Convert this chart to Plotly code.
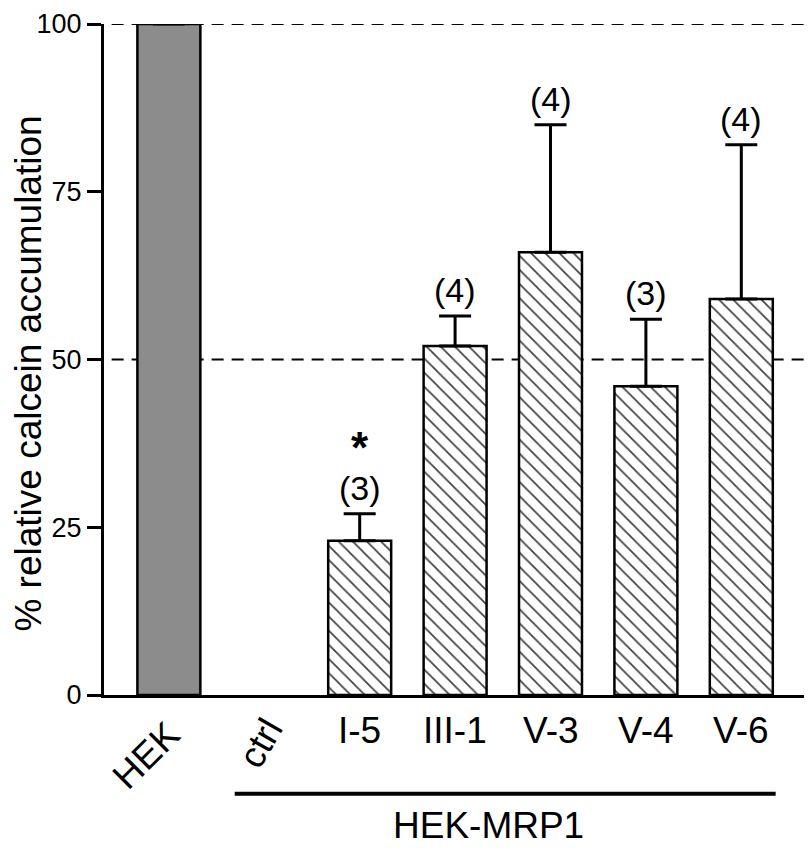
import plotly.graph_objects as go

categories = ["HEK", "ctrl", "I-5", "III-1", "V-3", "V-4", "V-6"]
values = [100, None, 23, 52, 66, 46, 59]
errors_up = [None, None, 4, 4.5, 19, 10, 23]
n_labels = ["", "", "(3)", "(4)", "(4)", "(3)", "(4)"]
significant = [False, False, True, False, False, False, False]
rotated_labels = {"HEK": (-45, -0.24, -0.09), "ctrl": (-60, -0.04, -0.072)}
group_label = "HEK-MRP1"
y_title = "% relative calcein accumulation"
ref_lines = [100, 50]
y_ticks = [0, 25, 50, 75, 100]

FONT = "Liberation Sans, Arial, Helvetica, sans-serif"
xi = list(range(len(categories)))

colors = ["#8c8c8c" if c == "HEK" else "white" for c in categories]
shapes_pat = ["" if c == "HEK" else "\\" for c in categories]

fig = go.Figure()
fig.add_bar(
    x=xi, y=values,
    width=0.66,
    marker=dict(
        color=colors,
        line=dict(color="black", width=2.5),
        pattern=dict(shape=shapes_pat, size=10, solidity=0.18, fgcolor="black", fgopacity=1),
    ),
    error_y=dict(type="data", symmetric=False, array=errors_up,
                 arrayminus=[0 if e is not None else None for e in errors_up],
                 color="black", thickness=3, width=16),
    showlegend=False,
)

annotations = []
for i, (c, v, e, n, s) in enumerate(zip(categories, values, errors_up, n_labels, significant)):
    if n:
        top = v + (e or 0)
        annotations.append(dict(x=i, y=top, xref="x", yref="y", text=n, showarrow=False,
                                yshift=26, yanchor="middle",
                                font=dict(family=FONT, size=34, color="black")))
        if s:
            annotations.append(dict(x=i, y=top, xref="x", yref="y", text="<b>*</b>", showarrow=False,
                                    yshift=66, yanchor="middle",
                                    font=dict(family=FONT, size=44, color="black")))
    if c in rotated_labels:
        ang, dx, py = rotated_labels[c]
        annotations.append(dict(x=i + dx, y=py, xref="x", yref="paper", text=c, showarrow=False,
                                textangle=ang, xanchor="center", yanchor="middle",
                                font=dict(family=FONT, size=37, color="black")))
    else:
        annotations.append(dict(x=i, y=-0.053, xref="x", yref="paper", text=c, showarrow=False,
                                xanchor="center", yanchor="middle",
                                font=dict(family=FONT, size=37, color="black")))

annotations.append(dict(x=3.35, y=-0.195, xref="x", yref="paper", text=group_label, showarrow=False,
                        xanchor="center", yanchor="middle",
                        font=dict(family=FONT, size=37, color="black")))
annotations.append(dict(x=0, y=0.479, xref="paper", yref="paper", text=y_title, showarrow=False,
                        xanchor="center", yanchor="middle", xshift=-75, textangle=-90,
                        font=dict(family=FONT, size=37, color="black")))

shapes = []
for r in ref_lines:
    shapes.append(dict(type="line", xref="x", yref="y", x0=-0.6, x1=6.75, y0=r, y1=r,
                       line=dict(color="black", width=2, dash="12px,8px"), layer="below"))
shapes.append(dict(type="line", xref="x", yref="paper", x0=0.69, x1=6.36, y0=-0.147, y1=-0.147,
                   line=dict(color="black", width=4)))

fig.update_layout(
    width=812, height=848,
    margin=dict(l=96, r=10, t=16, b=161, autoexpand=False),
    plot_bgcolor="white", paper_bgcolor="white",
    annotations=annotations,
    shapes=shapes,
    xaxis=dict(range=[-0.68, 6.72], showticklabels=False, ticks="", showgrid=False, zeroline=False,
               showline=True, linecolor="black", linewidth=3, automargin=False),
    yaxis=dict(range=[0, 100], tickvals=y_ticks, ticks="outside", ticklen=14, tickwidth=2.5,
               tickcolor="black", showgrid=False, zeroline=False, showline=True, linecolor="black",
               linewidth=3, ticklabeloverflow="allow", automargin=False,
               tickfont=dict(family=FONT, size=27, color="black")),
)

fig.write_html("out.html")
